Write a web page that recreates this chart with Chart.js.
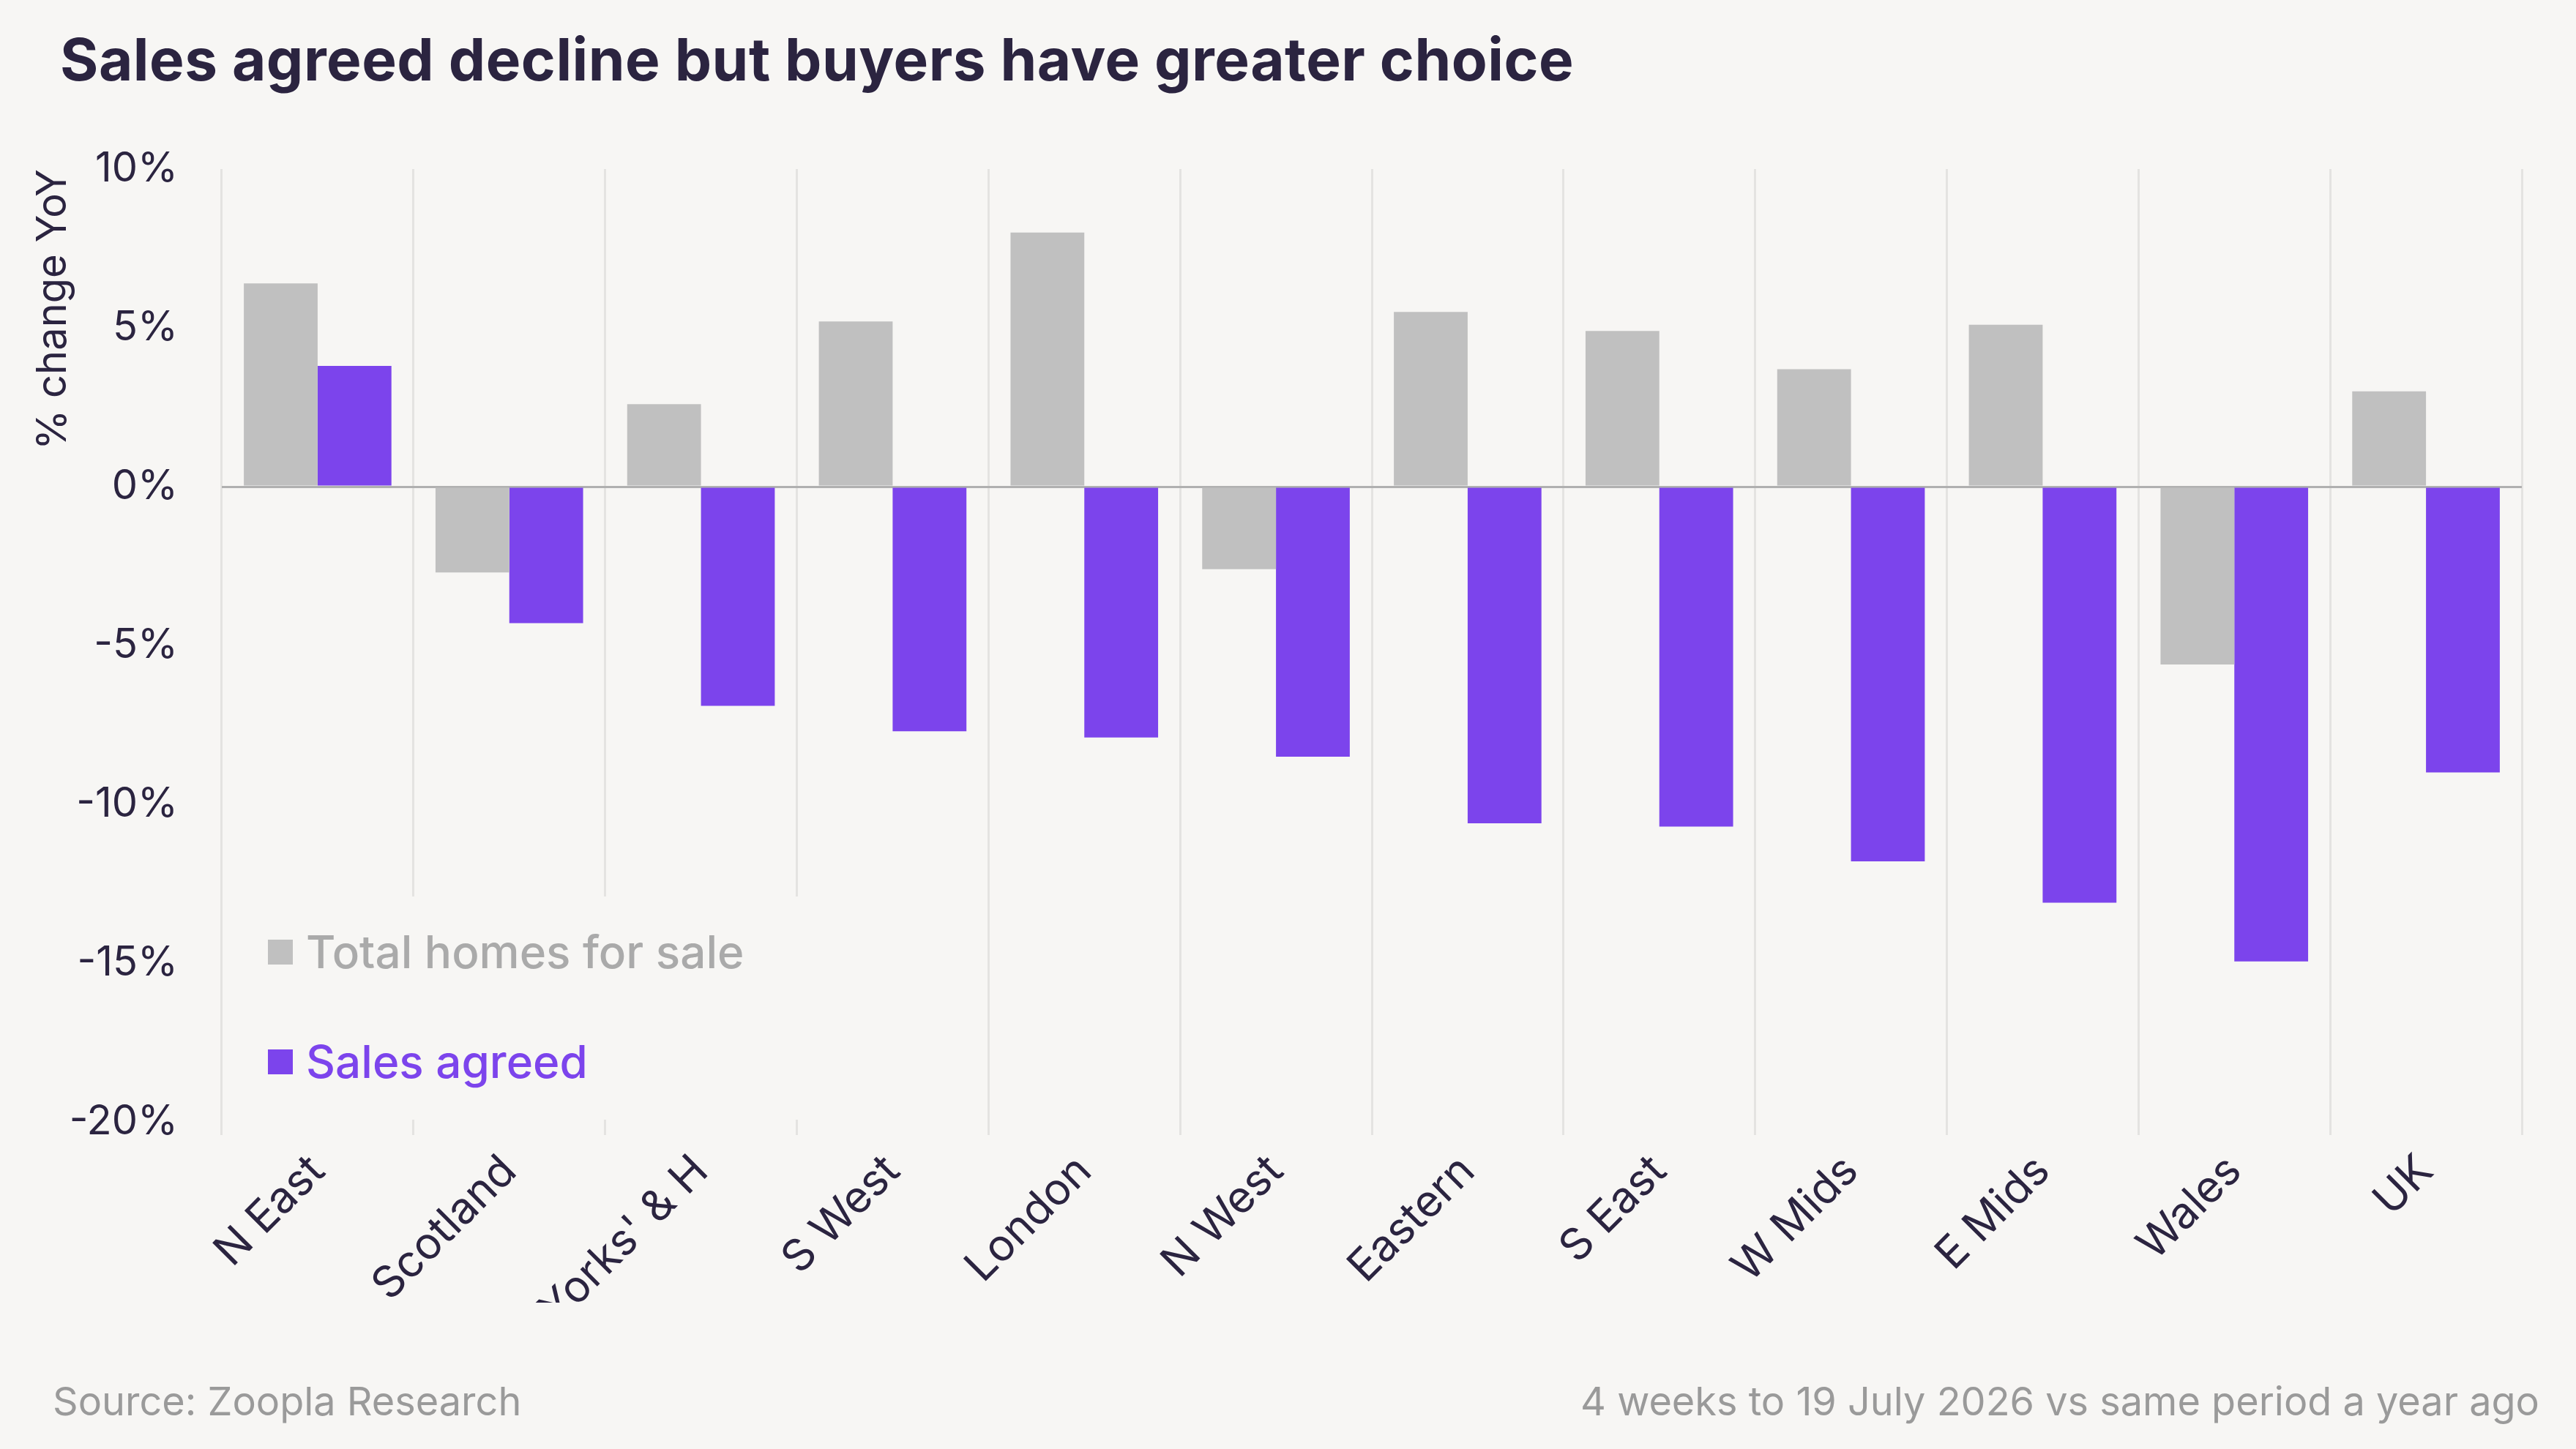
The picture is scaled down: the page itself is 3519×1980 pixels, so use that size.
<!DOCTYPE html>
<html>
<head>
<meta charset="utf-8">
<script src="https://cdn.jsdelivr.net/npm/chart.js@4"></script>
<style>
  html, body { margin: 0; padding: 0; background: #f7f6f4; }
  #wrap { position: relative; width: 3519px; height: 1980px; font-family: 'Inter', 'Lato', sans-serif; }
  #title { position: absolute; left: 82px; top: 32px; font-size: 80px; font-weight: 700; color: #2b2440; letter-spacing: 0.5px; }
  #legend { position: absolute; left: 330px; top: 1225px; width: 780px; height: 305px; background: #f7f6f4; }
  .item { position: absolute; left: 36px; font-size: 62px; font-weight: 500; display: flex; align-items: center; }
  .sw { width: 34px; height: 34px; margin-right: 18px; }
  .foot { position: absolute; top: 1882px; font-size: 54px; color: #9a9a9a; }
</style>
</head>
<body>
<div id="wrap">
  <canvas id="c" width="3519" height="1980"></canvas>
  <div id="title">Sales agreed decline but buyers have greater choice</div>
  <div id="legend">
    <div class="item" style="top:38px;color:#aaaaaa"><span class="sw" style="background:#c0c0c0"></span>Total homes for sale</div>
    <div class="item" style="top:188px;color:#7c44ec"><span class="sw" style="background:#7c44ec"></span>Sales agreed</div>
  </div>
  <div class="foot" style="left:72px">Source: Zoopla Research</div>
  <div class="foot" style="right:50px">4 weeks to 19 July 2026 vs same period a year ago</div>
</div>
<script>
'use strict';

// ---- Data ----
const regions   = ['N East','Scotland',"Yorks' & H",'S West','London','N West','Eastern','S East','W Mids','E Mids','Wales','UK'];
const totalHomes = [6.4, -2.7, 2.6, 5.2, 8.0, -2.6, 5.5, 4.9, 3.7, 5.1, -5.6, 3.0];
const salesAgreed = [3.8, -4.3, -6.9, -7.7, -7.9, -8.5, -10.6, -10.7, -11.8, -13.1, -14.95, -9.0];
const yTicks = [10, 5, 0, -5, -10, -15, -20];

const COLORS = { grey: '#c0c0c0', purple: '#7c44ec', text: '#2b2440', grid: '#e4e3e1', zero: '#b0b0b0' };
const font = { family: "'Inter', 'Lato', sans-serif", size: 56 };

new Chart(document.getElementById('c'), {
  type: 'bar',
  data: {
    labels: regions,
    datasets: [
      { label: 'Total homes for sale', data: totalHomes, backgroundColor: COLORS.grey },
      { label: 'Sales agreed', data: salesAgreed, backgroundColor: COLORS.purple },
    ]
  },
  options: {
    responsive: false,
    animation: false,
    devicePixelRatio: 1,
    categoryPercentage: 0.77,
    barPercentage: 1,
    layout: { padding: { top: 231, right: 74, bottom: 200, left: 40 } },
    plugins: { legend: { display: false }, tooltip: { enabled: false } },
    scales: {
      x: {
        offset: true,
        border: { display: false },
        grid: { offset: true, color: COLORS.grid, lineWidth: 3, tickLength: 18 },
        ticks: { color: COLORS.text, font: { ...font, size: 60 }, maxRotation: 45, minRotation: 45, padding: 14 },
        afterFit: s => { s.height = 247; },
      },
      y: {
        min: -20, max: 10,
        border: { display: false },
        afterBuildTicks: s => { s.ticks = yTicks.map(v => ({ value: v })); },
        afterFit: s => { s.width = 263; },
        grid: { drawTicks: false, lineWidth: 3, color: c => c.tick && c.tick.value === 0 ? COLORS.zero : 'rgba(0,0,0,0)' },
        ticks: { color: COLORS.text, font, padding: 60, callback: v => v + '%' },
        title: { display: true, text: '% change YoY', align: 'end', color: COLORS.text, font, padding: 0 },
      }
    }
  }
});
</script>
</body>
</html>
